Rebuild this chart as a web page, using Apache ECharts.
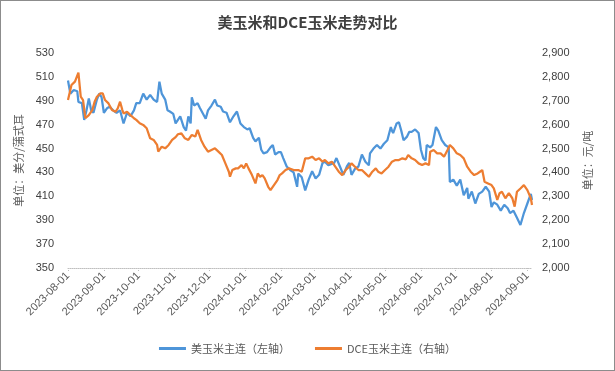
<!DOCTYPE html>
<html><head><meta charset="utf-8">
<script src="https://cdn.jsdelivr.net/npm/echarts@6/dist/echarts.min.js"></script>
<style>
html,body{margin:0;padding:0;background:#fff}
#c{position:absolute;left:0;top:0;width:615px;height:371px}
#b{position:absolute;left:0;top:0;width:615px;height:371px;box-sizing:border-box;border:1px solid #8c8c8c;pointer-events:none}
</style>
</head><body><div id="c"></div><div id="b"></div>
<script>
const tickLabels = ['2023-08-01','2023-09-01','2023-10-01','2023-11-01','2023-12-01','2024-01-01','2024-02-01','2024-03-01','2024-04-01','2024-05-01','2024-06-01','2024-07-01','2024-08-01','2024-09-01'];
const xRange = ['2023-08-01', '2024-09-05'];

const usDates = ['2023-08-01','2023-08-03','2023-08-06','2023-08-09','2023-08-10','2023-08-13','2023-08-15','2023-08-17','2023-08-19','2023-08-21','2023-08-23','2023-08-26','2023-08-28','2023-08-30',
'2023-09-01','2023-09-04','2023-09-06','2023-09-09','2023-09-12','2023-09-15','2023-09-18','2023-09-21','2023-09-24','2023-09-27','2023-09-29',
'2023-10-02','2023-10-05','2023-10-08','2023-10-11','2023-10-14','2023-10-17','2023-10-19','2023-10-21','2023-10-24','2023-10-26','2023-10-28','2023-10-31',
'2023-11-02','2023-11-06','2023-11-09','2023-11-11','2023-11-13','2023-11-15','2023-11-16','2023-11-18','2023-11-21','2023-11-23','2023-11-28','2023-11-30',
'2023-12-03','2023-12-06','2023-12-08','2023-12-11','2023-12-13','2023-12-16','2023-12-19','2023-12-22','2023-12-25','2023-12-28','2023-12-31',
'2024-01-03','2024-01-05','2024-01-08','2024-01-10','2024-01-13','2024-01-15','2024-01-17','2024-01-20','2024-01-23','2024-01-25','2024-01-27','2024-01-30',
'2024-02-01','2024-02-03','2024-02-06','2024-02-09','2024-02-12','2024-02-15','2024-02-16','2024-02-19','2024-02-22','2024-02-25','2024-02-28',
'2024-03-02','2024-03-05','2024-03-08','2024-03-10','2024-03-13','2024-03-18','2024-03-20','2024-03-23','2024-03-26','2024-03-29','2024-03-31',
'2024-04-02','2024-04-05','2024-04-08','2024-04-11','2024-04-14','2024-04-17','2024-04-18','2024-04-21','2024-04-24','2024-04-27','2024-04-30',
'2024-05-03','2024-05-06','2024-05-07','2024-05-08','2024-05-11','2024-05-13','2024-05-15','2024-05-17','2024-05-20','2024-05-22','2024-05-24','2024-05-27','2024-05-30',
'2024-06-01','2024-06-03','2024-06-05','2024-06-06','2024-06-09','2024-06-11','2024-06-14','2024-06-16','2024-06-19','2024-06-22','2024-06-25','2024-06-26','2024-06-29',
'2024-07-02','2024-07-05','2024-07-08','2024-07-11','2024-07-12','2024-07-15','2024-07-18','2024-07-21','2024-07-24','2024-07-27','2024-07-30',
'2024-08-01','2024-08-03','2024-08-06','2024-08-09','2024-08-12','2024-08-15','2024-08-17','2024-08-20','2024-08-23','2024-08-26','2024-08-29',
'2024-09-01','2024-09-04','2024-09-05'];
const usValues = [507,496,499,498,489,488,474,482,492,482,480,491,496,493,
480,484,485,482,480,482,471,480,477,482,488,
488,496,491,495,491,489,506,496,491,482,481,479,
471,477,468,465,477,471,493,486,488,484,475,482,
486,491,486,485,481,480,472,477,481,471,468,
466,467,459,456,459,449,446,447,451,453,445,447,
447,442,435,432,430,418,429,426,415,424,431,
425,428,438,439,436,438,442,435,428,435,438,
428,433,435,445,439,436,446,450,453,450,454,
457,468,465,463,471,472,465,457,460,464,464,466,463,
449,442,440,453,451,453,468,465,457,453,451,422,424,
419,424,411,417,408,414,404,412,414,418,414,
401,405,403,398,403,400,396,398,392,386,396,
404,412,407];

const dceDates = ['2023-08-01','2023-08-04','2023-08-07','2023-08-10','2023-08-12','2023-08-14','2023-08-16','2023-08-19','2023-08-22','2023-08-24','2023-08-26','2023-08-29','2023-08-31',
'2023-09-02','2023-09-05','2023-09-08','2023-09-11','2023-09-13','2023-09-15','2023-09-17','2023-09-18','2023-09-21','2023-09-24','2023-09-27','2023-09-29',
'2023-10-02','2023-10-05','2023-10-08','2023-10-11','2023-10-14','2023-10-17','2023-10-18','2023-10-21','2023-10-24','2023-10-27','2023-10-30',
'2023-11-02','2023-11-04','2023-11-07','2023-11-10','2023-11-13','2023-11-16','2023-11-19','2023-11-21','2023-11-24','2023-11-27','2023-11-30',
'2023-12-03','2023-12-06','2023-12-09','2023-12-12','2023-12-15','2023-12-18','2023-12-19','2023-12-21','2023-12-24','2023-12-26','2023-12-29','2023-12-31',
'2024-01-02','2024-01-04','2024-01-07','2024-01-10','2024-01-12','2024-01-14','2024-01-16','2024-01-18','2024-01-21','2024-01-23','2024-01-26','2024-01-29','2024-01-31',
'2024-02-02','2024-02-05','2024-02-08','2024-02-12','2024-02-16','2024-02-19','2024-02-22','2024-02-25','2024-02-28',
'2024-03-02','2024-03-05','2024-03-08','2024-03-10','2024-03-13','2024-03-16','2024-03-19','2024-03-22','2024-03-25','2024-03-28','2024-03-31',
'2024-04-02','2024-04-05','2024-04-08','2024-04-11','2024-04-14','2024-04-17','2024-04-20','2024-04-23','2024-04-25','2024-04-28',
'2024-05-01','2024-05-04','2024-05-07','2024-05-10','2024-05-13','2024-05-16','2024-05-19','2024-05-21','2024-05-24','2024-05-27','2024-05-30',
'2024-06-02','2024-06-05','2024-06-08','2024-06-09','2024-06-12','2024-06-15','2024-06-18','2024-06-21','2024-06-24','2024-06-26','2024-06-29',
'2024-07-02','2024-07-05','2024-07-08','2024-07-11','2024-07-14','2024-07-17','2024-07-20','2024-07-22','2024-07-24','2024-07-26','2024-07-29',
'2024-08-01','2024-08-03','2024-08-06','2024-08-08','2024-08-10','2024-08-13','2024-08-16','2024-08-19','2024-08-21','2024-08-23','2024-08-26','2024-08-29',
'2024-09-01','2024-09-04','2024-09-05'];
const dceValues = [2703,2766,2780,2818,2717,2703,2627,2640,2661,2696,2717,2731,2731,
2703,2689,2661,2654,2668,2696,2661,2647,2654,2640,2627,2620,
2606,2599,2585,2543,2536,2515,2487,2508,2501,2515,2536,
2548,2560,2564,2543,2536,2557,2550,2578,2536,2508,2487,
2494,2501,2487,2473,2438,2403,2382,2410,2417,2417,2431,2417,
2438,2417,2389,2354,2396,2382,2389,2375,2340,2326,2347,2368,2389,
2396,2410,2417,2410,2410,2403,2459,2459,2466,
2452,2459,2445,2452,2438,2445,2424,2403,2389,2410,2424,
2438,2424,2410,2410,2396,2382,2403,2417,2403,2396,
2410,2424,2445,2452,2452,2459,2455,2473,2459,2452,2438,
2431,2438,2431,2487,2494,2480,2480,2466,2494,2515,2501,
2480,2473,2459,2424,2403,2389,2396,2403,2410,2361,2354,
2347,2333,2285,2313,2319,2292,2313,2292,2257,2319,2333,2347,
2326,2292,2264];

const ts = s => new Date(s + 'T00:00:00Z').getTime();
const tickValues = tickLabels.map(ts);
const usData = usDates.map((d, i) => [ts(d), usValues[i]]);
const dceData = dceDates.map((d, i) => [ts(d), dceValues[i]]);

const FONT = '"Liberation Sans", "Noto Sans CJK SC", sans-serif';
const CJK = '"Noto Sans CJK SC", sans-serif';
const chart = echarts.init(document.getElementById('c'), null, {renderer: 'canvas'});
chart.setOption({
  animation: false,
  backgroundColor: '#fff',
  title: {
    text: '美玉米和DCE玉米走势对比', left: 'center', top: 10,
    textStyle: {fontSize: 15, fontWeight: 'bold', color: '#404040', fontFamily: CJK}
  },
  grid: {left: 68, right: 83, top: 53, bottom: 103},
  legend: {
    bottom: 12, left: 'center', icon: 'rect', itemWidth: 27, itemHeight: 3, itemGap: 25,
    textStyle: {fontSize: 11, color: '#595959', fontFamily: CJK},
    data: ['美玉米主连（左轴）', 'DCE玉米主连（右轴）']
  },
  xAxis: {
    type: 'value', min: ts(xRange[0]), max: ts(xRange[1]),
    axisLine: {show: true, lineStyle: {color: '#bfbfbf', type: 'dotted', width: 1}},
    axisTick: {show: true, customValues: tickValues, length: 4, lineStyle: {color: '#bfbfbf', type: 'dotted'}},
    axisLabel: {
      customValues: tickValues, rotate: 45, color: '#595959', fontSize: 11, fontFamily: FONT, margin: 6,
      formatter: v => { const i = tickValues.indexOf(v); return i >= 0 ? tickLabels[i] : ''; }
    },
    splitLine: {show: false}
  },
  yAxis: [
    {
      type: 'value', min: 350, max: 530, interval: 20, position: 'left',
      name: '单位：美分/蒲式耳', nameLocation: 'middle', nameGap: 40, nameRotate: 90,
      nameTextStyle: {color: '#595959', fontSize: 11, fontFamily: CJK},
      axisLine: {show: false}, axisTick: {show: false}, splitLine: {show: false},
      axisLabel: {color: '#404040', fontSize: 11, fontFamily: FONT, margin: 14}
    },
    {
      type: 'value', min: 2000, max: 2900, interval: 100, position: 'right',
      name: '单位：元/吨', nameLocation: 'middle', nameGap: 50, nameRotate: 90,
      nameTextStyle: {color: '#595959', fontSize: 11, fontFamily: CJK},
      axisLine: {show: false}, axisTick: {show: false}, splitLine: {show: false},
      axisLabel: {color: '#404040', fontSize: 11, fontFamily: FONT, margin: 10,
        formatter: v => v.toLocaleString('en-US')}
    }
  ],
  series: [
    {name: '美玉米主连（左轴）', type: 'line', yAxisIndex: 0, data: usData, symbol: 'none',
     lineStyle: {color: '#4e95d9', width: 2.25}, itemStyle: {color: '#4e95d9'}},
    {name: 'DCE玉米主连（右轴）', type: 'line', yAxisIndex: 1, data: dceData, symbol: 'none',
     lineStyle: {color: '#ed7d31', width: 2.25}, itemStyle: {color: '#ed7d31'}}
  ]
});
</script></body></html>
